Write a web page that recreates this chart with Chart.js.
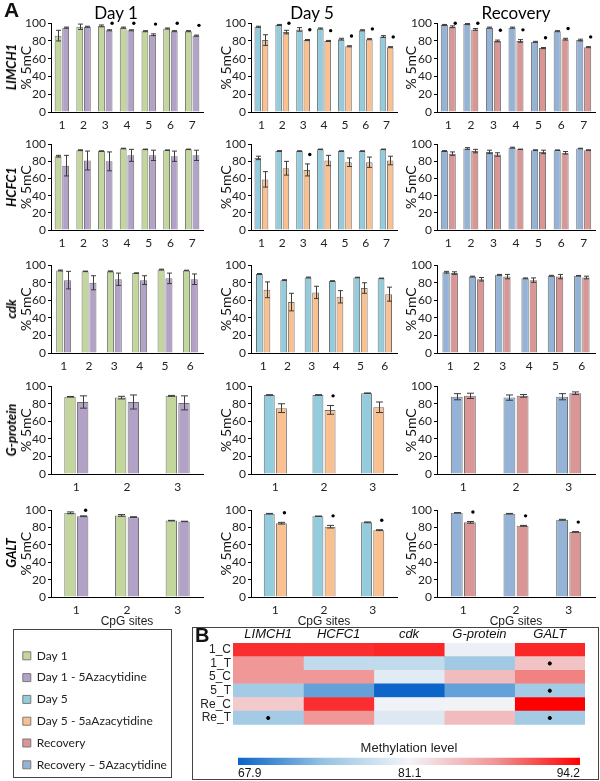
<!DOCTYPE html>
<html>
<head>
<meta charset="utf-8">
<script src="https://cdn.jsdelivr.net/npm/chart.js@4.4.1/dist/chart.umd.min.js"></script>
<style>
  body { margin: 0; background: #fff; }
  #page { position: relative; width: 600px; height: 781px; overflow: hidden; font-family: Lato, sans-serif; }
  canvas { position: absolute; }
  .lbl { position: absolute; white-space: nowrap; color: #111; }
  .gene { position: absolute; white-space: nowrap; font: italic bold 13px Lato, sans-serif; transform: translate(-50%, -50%) rotate(-90deg); }
  .coltitle { position: absolute; font-size: 17px; transform: translateX(-50%); }
</style>
</head>
<body>
<div id="page"></div>
<script>
// ---- bar panels: CpG site labels ----
const sites7 = ['1', '2', '3', '4', '5', '6', '7'];
const sites6 = ['1', '2', '3', '4', '5', '6'];
const sites3 = ['1', '2', '3'];

// LIMCH1
const limch1D1 = [86, 96, 97, 95, 91, 94, 91];
const limch1D1Err = [6, 3, 1, 0.6, 0.6, 0.6, 0.6];
const limch1D1Aza = [95, 96, 92, 92, 87, 91, 86];
const limch1D1AzaErr = [0.6, 0.6, 0.6, 0.6, 1, 0.6, 0.6];
const limch1D1Sig = [0, 0, 1, 1, 1, 1, 1];
const limch1D5 = [96, 98, 93, 94, 82, 92, 85];
const limch1D5Err = [0.6, 0.6, 2, 0.6, 1, 0.6, 1];
const limch1D5Aza = [81, 90, 81, 80, 74, 82, 73];
const limch1D5AzaErr = [6, 2, 0.6, 0.6, 0.6, 0.6, 0.6];
const limch1D5Sig = [0, 1, 1, 1, 1, 1, 1];
const limch1Rec = [98, 99, 95, 95, 79, 91, 81];
const limch1RecErr = [0.6, 0.6, 0.6, 0.6, 0.6, 0.6, 1];
const limch1RecAza = [96, 93, 80, 80, 72, 82, 73];
const limch1RecAzaErr = [1, 1, 1, 1.5, 0.6, 1, 0.6];
const limch1RecSig = [1, 1, 1, 1, 1, 1, 1];

// HCFC1
const hcfc1D1 = [86, 93, 92, 95, 94, 93, 94];
const hcfc1D1Err = [1, 0.5, 0.3, 0.3, 0.3, 0.3, 0.3];
const hcfc1D1Aza = [75, 81, 80, 87, 87, 86, 87];
const hcfc1D1AzaErr = [12, 11, 11, 7, 6, 6, 6];
const hcfc1D1Sig = [0, 0, 0, 0, 0, 0, 0];
const hcfc1D5 = [84, 92, 92, 94, 92, 92, 94];
const hcfc1D5Err = [2, 0.5, 0.3, 0.3, 0.3, 0.3, 0.3];
const hcfc1D5Aza = [59, 72, 70, 81, 79, 79, 81];
const hcfc1D5AzaErr = [9, 8, 7, 6, 5, 6, 5];
const hcfc1D5Sig = [0, 0, 1, 0, 0, 0, 0];
const hcfc1Rec = [92, 95, 91, 96, 93, 93, 95];
const hcfc1RecErr = [0.5, 1, 2, 0.5, 0.5, 0.3, 0.3];
const hcfc1RecAza = [89, 92, 88, 94, 91, 90, 93];
const hcfc1RecAzaErr = [2, 2, 2, 0.3, 2, 1.5, 0.5];
const hcfc1RecSig = [0, 0, 0, 0, 0, 0, 0];

// cdk
const cdkD1 = [94, 93, 93, 91, 95, 94];
const cdkD1Err = [0.5, 0.3, 0.5, 0.3, 0.5, 0.3];
const cdkD1Aza = [83, 80, 84, 83, 85, 84];
const cdkD1AzaErr = [10, 8, 7, 5, 6, 6];
const cdkD1Sig = [0, 0, 0, 0, 0, 0];
const cdkD5 = [90, 83, 86, 82, 86, 85];
const cdkD5Err = [0.5, 0.5, 0.5, 0.3, 0.3, 0.3];
const cdkD5Aza = [72, 58, 69, 64, 74, 67];
const cdkD5AzaErr = [9, 10, 7, 7, 6, 8];
const cdkD5Sig = [0, 0, 0, 0, 0, 0];
const cdkRec = [92, 87, 89, 85, 88, 88];
const cdkRecErr = [1, 0.5, 0.5, 0.5, 0.5, 0.3];
const cdkRecAza = [91, 84, 87, 83, 87, 86];
const cdkRecAzaErr = [1.5, 2, 2.5, 2.5, 2.5, 1.5];
const cdkRecSig = [0, 0, 0, 0, 0, 0];

// G-protein
const gprotD1 = [88, 87, 89];
const gprotD1Err = [0.3, 1.5, 0.5];
const gprotD1Aza = [82, 82, 81];
const gprotD1AzaErr = [7, 8, 8];
const gprotD1Sig = [0, 0, 0];
const gprotD5 = [90, 90, 92];
const gprotD5Err = [0.3, 0.3, 0.3];
const gprotD5Aza = [75, 73, 76];
const gprotD5AzaErr = [5, 5, 6];
const gprotD5Sig = [0, 1, 0];
const gprotRec = [88, 87, 88];
const gprotRecErr = [3.5, 3, 3.5];
const gprotRecAza = [89, 89, 92];
const gprotRecAzaErr = [3, 1.5, 1.5];
const gprotRecSig = [0, 0, 0];

// GALT
const galtD1 = [97, 94, 88];
const galtD1Err = [1, 1, 0.3];
const galtD1Aza = [93, 92, 87];
const galtD1AzaErr = [0.5, 0.5, 0.3];
const galtD1Sig = [1, 0, 0];
const galtD5 = [96, 93, 86];
const galtD5Err = [0.3, 0.3, 0.5];
const galtD5Aza = [85, 81, 77];
const galtD5AzaErr = [1, 1.5, 0.5];
const galtD5Sig = [1, 1, 1];
const galtRec = [97, 96, 89];
const galtRecErr = [0.3, 0.3, 0.5];
const galtRecAza = [86, 82, 75];
const galtRecAzaErr = [1, 0.5, 0.3];
const galtRecSig = [1, 1, 1];

// ---- heatmap (panel B) ----
const hmGenes = ['LIMCH1', 'HCFC1', 'cdk', 'G-protein', 'GALT'];
const hmRows = ['1_C', '1_T', '5_C', '5_T', 'Re_C', 'Re_T'];
const hmLIMCH1 = [92.2, 87.5, 87.5, 75.5, 84.0, 75.5];
const hmHCFC1 = [92.2, 77.5, 87.5, 72.1, 92.2, 87.5];
const hmCdk = [92.5, 77.5, 79.8, 68.0, 80.8, 79.5];
const hmGprot = [80.5, 75.3, 85.0, 72.1, 80.9, 85.0];
const hmGALT = [92.5, 84.5, 88.5, 75.5, 94.2, 75.5];
const hmSigGene = ['GALT', 'GALT', 'LIMCH1', 'GALT'];
const hmSigRow = ['1_T', '5_T', 'Re_T', 'Re_T'];
const scaleTicks = [67.9, 81.1, 94.2];

const legendLabels = ['Day 1', 'Day 1 - 5Azacytidine', 'Day 5', 'Day 5 - 5aAzacytidine', 'Recovery', 'Recovery \u2013 5Azacytidine'];
const legendColors = ['#C3D69B', '#B3A2C7', '#93CDDD', '#FAC090', '#D99694', '#95B3D7'];

Chart.defaults.font.family = 'Lato, sans-serif';
Chart.defaults.color = '#222';

const page = document.getElementById('page');

function addCanvas(left, top, w, h) {
  const c = document.createElement('canvas');
  c.width = w; c.height = h;
  c.style.left = left + 'px'; c.style.top = top + 'px';
  page.appendChild(c);
  return c;
}
function addText(cls, text, left, top, css) {
  const d = document.createElement('div');
  d.className = cls; d.textContent = text;
  d.style.left = left + 'px'; d.style.top = top + 'px';
  if (css) Object.assign(d.style, css);
  page.appendChild(d);
  return d;
}

// error bars + significance dots
const errorBars = {
  id: 'errorBars',
  afterDatasetsDraw(chart) {
    const ctx = chart.ctx, y = chart.scales.y;
    chart.data.datasets.forEach((ds, i) => {
      const meta = chart.getDatasetMeta(i);
      meta.data.forEach((bar, j) => {
        const v = ds.data[j], e = ds.errors[j];
        const x = Math.round(bar.x) + 0.5;
        const t = y.getPixelForValue(v + e), b = y.getPixelForValue(v - e);
        const cap = ds.labelsCount > 3 ? 2.5 : 3.5;
        ctx.save();
        ctx.strokeStyle = '#3c3c3c';
        ctx.lineWidth = 1;
        ctx.beginPath();
        ctx.moveTo(x, t); ctx.lineTo(x, b);
        ctx.moveTo(x - cap, t); ctx.lineTo(x + cap, t);
        ctx.moveTo(x - cap, b); ctx.lineTo(x + cap, b);
        ctx.stroke();
        if (ds.sig && ds.sig[j]) {
          const sy = y.getPixelForValue(Math.min(v + e + 11, 100));
          ctx.fillStyle = '#000';
          ctx.beginPath();
          ctx.arc(bar.x + 3, sy, 1.7, 0, Math.PI * 2);
          ctx.fill();
        }
        ctx.restore();
      });
    });
  }
};

const colColors = [['#C3D69B', '#B3A2C7'], ['#93CDDD', '#FAC090'], ['#95B3D7', '#D99694']];
const colX = [{title: 26, axis: 51, right: 203}, {title: 226, axis: 251, right: 397}, {title: 411, axis: 437, right: 595}];
const rowY = [[22, 112], [143, 230], [264, 353], [385, 474], [509, 597]];
const genes = ['LIMCH1', 'HCFC1', 'cdk', 'G-protein', 'GALT'];

const panels = [
  [sites7, limch1D1, limch1D1Err, limch1D1Aza, limch1D1AzaErr, limch1D1Sig],
  [sites7, limch1D5, limch1D5Err, limch1D5Aza, limch1D5AzaErr, limch1D5Sig],
  [sites7, limch1Rec, limch1RecErr, limch1RecAza, limch1RecAzaErr, limch1RecSig],
  [sites7, hcfc1D1, hcfc1D1Err, hcfc1D1Aza, hcfc1D1AzaErr, hcfc1D1Sig],
  [sites7, hcfc1D5, hcfc1D5Err, hcfc1D5Aza, hcfc1D5AzaErr, hcfc1D5Sig],
  [sites7, hcfc1Rec, hcfc1RecErr, hcfc1RecAza, hcfc1RecAzaErr, hcfc1RecSig],
  [sites6, cdkD1, cdkD1Err, cdkD1Aza, cdkD1AzaErr, cdkD1Sig],
  [sites6, cdkD5, cdkD5Err, cdkD5Aza, cdkD5AzaErr, cdkD5Sig],
  [sites6, cdkRec, cdkRecErr, cdkRecAza, cdkRecAzaErr, cdkRecSig],
  [sites3, gprotD1, gprotD1Err, gprotD1Aza, gprotD1AzaErr, gprotD1Sig],
  [sites3, gprotD5, gprotD5Err, gprotD5Aza, gprotD5AzaErr, gprotD5Sig],
  [sites3, gprotRec, gprotRecErr, gprotRecAza, gprotRecAzaErr, gprotRecSig],
  [sites3, galtD1, galtD1Err, galtD1Aza, galtD1AzaErr, galtD1Sig],
  [sites3, galtD5, galtD5Err, galtD5Aza, galtD5AzaErr, galtD5Sig],
  [sites3, galtRec, galtRecErr, galtRecAza, galtRecAzaErr, galtRecSig]
];

panels.forEach((p, k) => {
  const [labels, ctrl, ctrlErr, aza, azaErr, sig] = p;
  const row = Math.floor(k / 3), col = k % 3;
  const cx = colX[col], [y100, y0] = rowY[row];
  const lastRow = row === 4;
  const xH = lastRow ? 32 : 22;
  const left = Math.round(cx.title - 8.4);
  const top = y100 - 8;
  const w = cx.right + 3 - left;
  const h = y0 - top + xH;
  const catPct = labels.length === 7 ? 0.7 : labels.length === 6 ? 0.62 : 0.5;
  const canvas = addCanvas(left, top, w, h);
  new Chart(canvas, {
    type: 'bar',
    data: {
      labels: labels,
      datasets: [
        {data: ctrl, errors: ctrlErr, labelsCount: labels.length, backgroundColor: colColors[col][0],
         borderColor: '#707070', borderWidth: 1, categoryPercentage: catPct, barPercentage: 0.9},
        {data: aza, errors: azaErr, sig: sig, labelsCount: labels.length, backgroundColor: colColors[col][1],
         borderColor: '#707070', borderWidth: 1, categoryPercentage: catPct, barPercentage: 0.9}
      ]
    },
    options: {
      responsive: false,
      animation: false,
      devicePixelRatio: 1,
      layout: {padding: {top: 8, left: 0, right: 3, bottom: 0}},
      plugins: {legend: {display: false}, tooltip: {enabled: false}},
      scales: {
        x: {
          grid: {display: false, drawTicks: false},
          border: {color: '#000', width: 1},
          ticks: {padding: 6, font: {size: 12}, maxRotation: 0, autoSkip: false},
          title: {display: lastRow, text: 'CpG sites', padding: 0, color: '#222',
                  font: {family: '"Liberation Sans", Arial, sans-serif', size: 12}},
          afterFit(s) { s.height = xH; }
        },
        y: {
          min: 0, max: 100,
          ticks: {stepSize: 20, padding: 2, font: {size: 12}, autoSkip: false},
          grid: {drawOnChartArea: false, tickLength: 3, color: '#000'},
          border: {color: '#000', width: 1},
          title: {display: true, text: '% 5mC', padding: 0, color: '#111', font: {size: 14}},
          afterFit(s) { s.width = cx.axis - left; }
        }
      }
    },
    plugins: [errorBars]
  });
  if (col === 0) {
    addText('gene', genes[row], 11, (y100 + y0) / 2);
  }
});

addText('lbl', 'A', 4, -2, {font: 'bold 21px "Liberation Sans", Arial, sans-serif'});
addText('coltitle', 'Day 1', 116, 2);
addText('coltitle', 'Day 5', 312, 2);
addText('coltitle', 'Recovery', 516, 2);

// ---- legend box ----
const lgBox = document.createElement('div');
Object.assign(lgBox.style, {position: 'absolute', left: '13px', top: '629px', width: '157px', height: '147px', border: '1px solid #444'});
page.appendChild(lgBox);
const lgCanvas = addCanvas(13, 630, 158, 151);
new Chart(lgCanvas, {
  type: 'bar',
  data: {
    labels: [],
    datasets: legendLabels.map((l, i) => ({label: l, data: [], backgroundColor: legendColors[i], borderColor: '#7a7a7a', borderWidth: 1}))
  },
  options: {
    responsive: false, animation: false, devicePixelRatio: 1,
    layout: {padding: {top: 10, left: 0, right: 0, bottom: 0}},
    scales: {x: {display: false}, y: {display: false}},
    plugins: {
      tooltip: {enabled: false},
      legend: {position: 'top', align: 'start', maxHeight: 150,
               labels: {boxWidth: 8, boxHeight: 8, padding: 9.8, color: '#222', font: {size: 12}}}
    }
  }
});

// ---- heatmap (B) ----
const hmBox = document.createElement('div');
Object.assign(hmBox.style, {position: 'absolute', left: '192px', top: '627px', width: '405px', height: '151px', border: '1px solid #444'});
page.appendChild(hmBox);

const stops = [[10, 100, 200], [150, 195, 225], [243, 244, 248], [240, 150, 150], [255, 0, 0]];
function heatColor(v) {
  const t = Math.max(0, Math.min(1, (v - 67.9) / (94.2 - 67.9))) * 4;
  const i = Math.min(3, Math.floor(t)), f = t - i;
  const a = stops[i], b = stops[i + 1];
  const c = a.map((x, n) => Math.round(x + (b[n] - x) * f));
  return 'rgb(' + c.join(',') + ')';
}

const hmValues = [hmLIMCH1, hmHCFC1, hmCdk, hmGprot, hmGALT];
const hmCanvas = addCanvas(193, 628, 400, 106);
new Chart(hmCanvas, {
  type: 'bar',
  data: {
    labels: hmRows,
    datasets: [
      ...hmValues.map((vals, c) => ({
        type: 'bar', indexAxis: 'y', grouped: false,
        data: hmRows.map(() => [c, c + 1]),
        backgroundColor: vals.map(heatColor),
        borderWidth: 0, barPercentage: 1, categoryPercentage: 1,
        xAxisID: 'x', yAxisID: 'y', order: 1
      })),
      {
        type: 'scatter', order: -1,
        data: hmSigGene.map((g, i) => ({x: hmGenes.indexOf(g) + 0.5, y: hmSigRow[i]})),
        backgroundColor: '#000', borderColor: '#000', pointRadius: 1.6,
        xAxisID: 'x', yAxisID: 'y'
      }
    ]
  },
  options: {
    responsive: false, animation: false, devicePixelRatio: 1,
    layout: {padding: {top: 0, left: 0, right: 8, bottom: 0}},
    plugins: {legend: {display: false}, tooltip: {enabled: false}},
    scales: {
      x: {type: 'linear', min: 0, max: 5, display: false, offset: false},
      x2: {type: 'category', labels: hmGenes, position: 'top', offset: true,
           grid: {display: false, drawTicks: false}, border: {display: false},
           ticks: {padding: 1, color: '#111', autoSkip: false, font: {family: '"Liberation Sans", Arial, sans-serif', style: 'italic', size: 13}},
           afterFit(s) { s.height = 15; }},
      y: {type: 'category', offset: true,
          grid: {display: false, drawTicks: false}, border: {display: false},
          ticks: {padding: 2, color: '#222', autoSkip: false, font: {family: '"Liberation Sans", Arial, sans-serif', size: 12}},
          afterFit(s) { s.width = 40; }}
    }
  }
});
addText('lbl', 'B', 195, 624, {font: 'bold 20px "Liberation Sans", Arial, sans-serif'});

// colour scale bar
const cbCanvas = addCanvas(193, 739, 400, 40);
new Chart(cbCanvas, {
  type: 'bar',
  data: {
    labels: [''],
    datasets: [{
      indexAxis: 'y',
      data: [[scaleTicks[0], scaleTicks[2]]],
      barThickness: 7,
      borderWidth: 0,
      backgroundColor(ctx) {
        const area = ctx.chart.chartArea;
        if (!area) return '#ccc';
        const g = ctx.chart.ctx.createLinearGradient(area.left, 0, area.right, 0);
        stops.forEach((s, i) => g.addColorStop(i / 4, 'rgb(' + s.join(',') + ')'));
        return g;
      }
    }]
  },
  options: {
    responsive: false, animation: false, devicePixelRatio: 1,
    indexAxis: 'y',
    layout: {padding: {top: 0, left: 45, right: 13, bottom: 0}},
    plugins: {
      legend: {display: false}, tooltip: {enabled: false},
      title: {display: true, text: 'Methylation level', color: '#222', padding: {top: 2, bottom: 1},
              font: {family: '"Liberation Sans", Arial, sans-serif', size: 13, weight: 'normal'}}
    },
    scales: {
      x: {type: 'linear', min: scaleTicks[0], max: scaleTicks[2],
          grid: {display: false, drawTicks: false}, border: {display: false},
          afterBuildTicks(s) { s.ticks = scaleTicks.map(v => ({value: v})); },
          ticks: {align: 'inner', padding: 1, color: '#111', callback: v => v.toFixed(1),
                  font: {family: '"Liberation Sans", Arial, sans-serif', size: 12}},
          afterFit(s) { s.height = 14; }},
      y: {display: false}
    }
  }
});
</script>
</body>
</html>
